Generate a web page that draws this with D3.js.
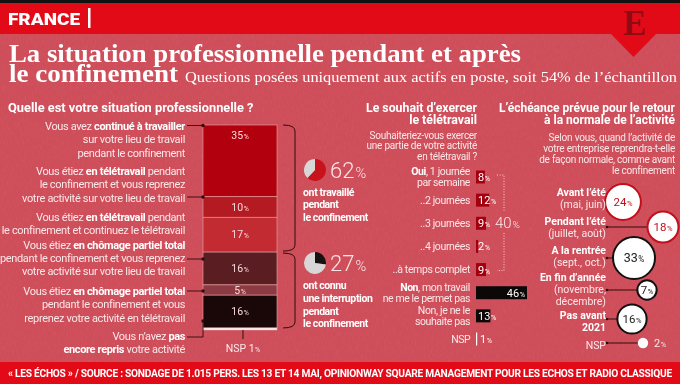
<!DOCTYPE html>
<html><head><meta charset="utf-8">
<script src="https://cdn.jsdelivr.net/npm/d3@7"></script>
<style>body{margin:0;background:#cc4b56}svg{display:block}text{font-family:Roboto,'Liberation Sans',sans-serif}</style>
</head><body><svg id="c" width="680" height="384"></svg>
<script>
// ---------- DATA ----------
const situationLabels = [
  ["Vous avez **continué à travailler**", "sur votre lieu de travail", "pendant le confinement"],
  ["Vous étiez **en télétravail** pendant", "le confinement et vous reprenez", "votre activité sur votre lieu de travail"],
  ["Vous étiez **en télétravail** pendant", "le confinement et continuez le télétravail"],
  ["Vous étiez **en chômage partiel total**", "pendant le confinement et vous reprenez", "votre activité sur votre lieu de travail"],
  ["Vous étiez **en chômage partiel total**", "pendant le confinement et vous", "reprenez votre activité en télétravail"],
  ["Vous n’avez **pas**", "**encore repris** votre activité"],
  ["NSP"]
];
const situationValues = [35, 10, 17, 16, 5, 16, 1];
const summaryValues = [62, 27];
const summaryLabels = [["ont travaillé", "pendant", "le confinement"], ["ont connu", "une interruption", "pendant", "le confinement"]];
const teleCategories = ["Oui1", "Oui2", "Oui3", "Oui4", "Oui5", "Non1", "Non2", "NSP"];
const teleLabels = [["**Oui**, 1 journée", "par semaine"], ["..2 journées"], ["..3 journées"], ["..4 journées"], ["..à temps complet"], ["**Non**, mon travail", "ne me le permet pas"], ["Non, je ne le", "souhaite pas"], ["NSP"]];
const teleValues = [8, 12, 9, 2, 9, 46, 13, 1];
const teleOuiTotal = 40;
const retourLabels = [["**Avant l’été**", "(mai, juin)"], ["**Pendant l’été**", "(juillet, août)"], ["**A la rentrée**", "(sept., oct.)"], ["**En fin d’année**", "(novembre,", "décembre)"], ["**Pas avant**", "**2021**"], ["NSP"]];
const retourValues = [24, 18, 33, 7, 16, 2];

// ---------- STYLE / LAYOUT ----------
const RED = "#e30a17", BG = "#cc4b56", TXT = "#fbe6e8", W = "#ffffff", DARK = "#2e0c0e";
const segColors = ["#b3000e", "#b31a21", "#c22b31", "#5a1d22", "#8d3b43", "#1a0708", "#ffffff"];
const svg = d3.select("#c");

// mixed-weight line, tightened by factor f (via letter-spacing)
function rich(sel, x, y, str, o) {
  const f = o.f || 1;
  const parts = str.split("**").map((s, i) => ({ s, b: i % 2 === 1 })).filter(p => p.s);
  const g = sel.append("g");
  const els = parts.map(p => {
    const t = g.append("text").attr("y", y).attr("font-size", o.size)
      .attr("font-weight", p.b ? 700 : (o.weight || 400))
      .attr("fill", p.b ? (o.boldFill || W) : o.fill).style("white-space", "pre").text(p.s);
    if (f !== 1) {
      const w0 = t.node().getComputedTextLength();
      t.attr("letter-spacing", (w0 * (f - 1) / p.s.length).toFixed(3));
    }
    const w = t.node().getComputedTextLength();
    return { t, w };
  });
  const total = d3.sum(els, e => e.w);
  let cx = o.anchor === "end" ? x - total : o.anchor === "middle" ? x - total / 2 : x;
  els.forEach(e => { e.t.attr("x", cx); cx += e.w; });
  return g;
}
function fitWidth(t, target) {
  const w0 = t.node().getComputedTextLength();
  const n = t.text().length;
  t.attr("letter-spacing", ((target - w0) / n).toFixed(3));
}
function pct(sel, x, y, v, size, o) {
  const t = sel.append("text").attr("x", x).attr("y", y).attr("font-size", size)
    .attr("text-anchor", o.anchor || "start").attr("fill", o.fill).attr("font-weight", o.weight || 400);
  t.append("tspan").text(v);
  t.append("tspan").attr("font-size", size * 0.66).attr("dx", size * 0.05).text("%");
  return t;
}

// background + subtle paper texture
const defs = svg.append("defs");
const flt = defs.append("filter").attr("id", "tex").attr("x", 0).attr("y", 0).attr("width", 1).attr("height", 1);
flt.append("feTurbulence").attr("type", "fractalNoise").attr("baseFrequency", "0.9 0.22").attr("numOctaves", 2).attr("seed", 4);
flt.append("feColorMatrix").attr("type", "saturate").attr("values", 0);
svg.append("rect").attr("width", 680).attr("height", 384).attr("fill", BG);
svg.append("rect").attr("y", 34).attr("width", 680).attr("height", 328).attr("filter", "url(#tex)")
  .attr("opacity", 0.22).style("mix-blend-mode", "overlay");
// header
svg.append("rect").attr("width", 680).attr("height", 34).attr("fill", RED);
svg.append("rect").attr("width", 680).attr("height", 3).attr("fill", "#111");
svg.append("text").attr("x", 8).attr("y", 24.5).attr("font-size", 17).attr("font-weight", 900)
  .attr("fill", W).attr("textLength", 72).attr("lengthAdjust", "spacingAndGlyphs").text("FRANCE");
svg.append("rect").attr("x", 88).attr("y", 8).attr("width", 2.5).attr("height", 20).attr("fill", W);
svg.append("path").attr("d", "M610,33L657,33L633.5,57Z").attr("fill", RED);
svg.append("text").attr("x", 635).attr("y", 35).attr("text-anchor", "middle")
  .attr("font-weight", 700).attr("font-size", 35)
  .attr("fill", "#8e0a14").style("font-family", "'Liberation Serif',serif").text("E");

// title
const serif = "'Liberation Serif','DejaVu Serif',serif";
svg.append("text").attr("x", 9).attr("y", 62).attr("font-size", 25.5).attr("font-weight", 700)
  .style("font-family", serif).attr("fill", W).attr("textLength", 512).attr("lengthAdjust", "spacingAndGlyphs")
  .text("La situation professionnelle pendant et après");
svg.append("text").attr("x", 9).attr("y", 82).attr("font-size", 25.5).attr("font-weight", 700)
  .style("font-family", serif).attr("fill", W).attr("textLength", 169).attr("lengthAdjust", "spacingAndGlyphs")
  .text("le confinement");
svg.append("text").attr("x", 185).attr("y", 81.5).attr("font-size", 15.5)
  .style("font-family", serif).attr("fill", W).attr("textLength", 492).attr("lengthAdjust", "spacingAndGlyphs")
  .text("Questions posées uniquement aux actifs en poste, soit 54% de l’échantillon");

// ---------- LEFT: stacked bar ----------
const left = svg.append("g");
left.append("text").attr("x", 8).attr("y", 112).attr("font-size", 12.8).attr("font-weight", 700)
  .attr("fill", W).text("Quelle est votre situation professionnelle ?");

const yS = d3.scaleLinear().domain([0, d3.sum(situationValues)]).range([125, 330]);
const cum = [0, ...d3.cumsum(situationValues)];
const barX = 203, barW = 74;
situationValues.forEach((v, i) => {
  left.append("rect").attr("x", barX).attr("y", yS(cum[i])).attr("width", barW)
    .attr("height", yS(cum[i + 1]) - yS(cum[i])).attr("fill", segColors[i])
    .attr("stroke", "#e9a3a8").attr("stroke-width", 0.6);
  if (i < situationValues.length - 1) {
    const yy = i === 0 ? yS(cum[i]) + 13.5 : (yS(cum[i]) + yS(cum[i + 1])) / 2 + 3.6;
    pct(left, barX + barW / 2, yy, v, 10.5, { anchor: "middle", fill: "#f7dadc" });
  }
});
// NSP
const nspX = barX + barW / 2 + 3;
left.append("line").attr("x1", nspX).attr("x2", nspX).attr("y1", yS(100)).attr("y2", yS(100) + 9)
  .attr("stroke", DARK).attr("stroke-width", 1);
const nt = left.append("text").attr("x", nspX).attr("y", 352).attr("text-anchor", "middle")
  .attr("font-size", 10.5).attr("fill", TXT);
nt.append("tspan").text("NSP " + situationValues[6]);
nt.append("tspan").attr("font-size", 7).attr("dx", 0.5).text("%");

const leftLabelY = [130, 175, 221, 248.5, 295, 340];
const LH = 13.3;
leftLabelY.forEach((y0, i) => {
  situationLabels[i].forEach((ln, j) => rich(left, 185, y0 + j * LH, ln, { anchor: "end", size: 11, fill: TXT, f: 0.93 }));
});
// pointers
const pointers = [{ y: 125.5 }, { y: 197 }, { y: 259 }, { y: 291 }, { y: 337, dot: 321 }];
pointers.forEach(p => {
  const d = p.dot ? `M187,${p.y}H${barX}V${p.dot}` : `M187,${p.y}H${barX}`;
  left.append("path").attr("d", d).attr("fill", "none").attr("stroke", DARK).attr("stroke-width", 0.9);
  left.append("circle").attr("cx", barX).attr("cy", p.dot || p.y).attr("r", 1.7).attr("fill", DARK);
});
// brackets
function bracket(t, b) {
  return `M283,${t}Q295,${t} 295,${t + 6}V${b - 6}Q295,${b} 283,${b}`;
}
const midB = yS(cum[3]);
left.append("path").attr("d", bracket(yS(0), midB - 1)).attr("fill", "none").attr("stroke", DARK).attr("stroke-width", 1);
left.append("path").attr("d", bracket(midB + 1, yS(cum[6]))).attr("fill", "none").attr("stroke", DARK).attr("stroke-width", 1);

// pies
const pie = d3.pie().sort(null);
const arc = d3.arc().innerRadius(0).outerRadius(11);
const pieY = [170, 263], pieCol = ["#c8131c", "#161212"];
summaryValues.forEach((v, i) => {
  const g = left.append("g").attr("transform", `translate(315,${pieY[i]})`);
  g.selectAll("path").data(pie([v, 100 - v])).join("path").attr("d", arc)
    .attr("fill", (d, k) => k === 0 ? pieCol[i] : "#d8d6d6");
  pct(left, 330, pieY[i] + 8, v, 22, { fill: TXT, weight: 300 });
  const base = i === 0 ? 195.5 : 289;
  summaryLabels[i].forEach((ln, j) => rich(left, 303, base + j * 12.8, "**" + ln + "**",
    { size: 10.5, fill: W, f: 0.92 }));
});

// ---------- MIDDLE: télétravail ----------
const mid = svg.append("g");
["Le souhait d’exercer", "le télétravail"].forEach((t, j) => mid.append("text").attr("x", 477).attr("y", 112 + j * 12)
  .attr("text-anchor", "end").attr("font-size", 12.3).attr("font-weight", 700).attr("fill", W).text(t));
["Souhaiteriez-vous exercer", "une partie de votre activité", "en télétravail ?"].forEach((t, j) =>
  rich(mid, 477, 138.5 + j * 10.8, t, { anchor: "end", size: 10, fill: TXT, f: 0.94 }));
const tx0 = 476;
const xT = d3.scaleLinear().domain([0, d3.max(teleValues)]).range([0, 51]);
const rowY = d3.scalePoint().domain(teleCategories).range([177, 339]);
teleCategories.forEach((c, i) => {
  const cy = rowY(c), v = teleValues[i];
  const col = i < 5 ? "#a3000f" : (i < 7 ? "#0c0808" : "#ffffff");
  mid.append("rect").attr("x", tx0).attr("y", cy - 6.5).attr("width", Math.max(xT(v), 1.2)).attr("height", 13).attr("fill", col);
  if (v === d3.max(teleValues)) pct(mid, tx0 + xT(v) - 2, cy + 4, v, 11, { anchor: "end", fill: W });
  else pct(mid, tx0 + (i === 7 ? 4 : 2), cy + 4, v, 11, { fill: W });
  const lines = teleLabels[i];
  const ys = lines.length === 2 ? [cy - 2, cy + 8.9] : [cy + 3.7];
  lines.forEach((ln, j) => rich(mid, 470, ys[j], ln, { anchor: "end", size: 10.5, fill: TXT, f: 0.92 }));
});
// 40% dotted bracket
const yTop = rowY(teleCategories[0]) - 2, yBot = rowY(teleCategories[4]) + 1;
mid.append("path").attr("d", `M497,${yTop}H504V212M504,233V${yBot}H497`)
  .attr("stroke", "#f6d2d5").attr("stroke-width", 1).attr("stroke-dasharray", "1,1.6").attr("fill", "none");
pct(mid, 495, 228, teleOuiTotal, 15, { fill: TXT, weight: 300 });

// ---------- RIGHT: retour ----------
const right = svg.append("g");
["L’échéance prévue pour le retour", "à la normale de l’activité"].forEach((t, j) => right.append("text").attr("x", 675)
  .attr("y", 112 + j * 12).attr("text-anchor", "end").attr("font-size", 12).attr("font-weight", 700).attr("fill", W).text(t));
["Selon vous, quand l’activité de", "votre entreprise reprendra-t-elle", "de façon normale, comme avant", "le confinement"]
  .forEach((t, j) => rich(right, 675, 141.2 + j * 10.8, t, { anchor: "end", size: 10, fill: TXT, f: 0.95 }));
const rS = d3.scaleSqrt().domain([0, d3.max(retourValues)]).range([0, 21]);
const bubX = [623, 663, 634, 647, 632, 643];
const bubY = [202, 227, 258, 290, 319, 343];
const labY = [195.5, 224.7, 253.7, 281, 318.7, 348.5];
retourValues.forEach((v, i) => {
  const r = rS(v), cx = bubX[i], cy = bubY[i];
  right.append("line").attr("x1", 607).attr("x2", cx - r).attr("y1", cy).attr("y2", cy)
    .attr("stroke", DARK).attr("stroke-width", 1);
  right.append("circle").attr("cx", 607).attr("cy", cy).attr("r", 1.3).attr("fill", DARK);
  const strokeC = i < 2 ? "#c20f1c" : "#111";
  right.append("circle").attr("cx", cx).attr("cy", cy).attr("r", r).attr("fill", W)
    .attr("stroke", strokeC).attr("stroke-width", i === 5 ? 0 : 2);
  if (i < 5) pct(right, cx, cy + 4, v, v > 30 ? 12.5 : 11.5, { anchor: "middle", fill: i < 2 ? "#c20f1c" : "#222" });
  else pct(right, cx + 11, cy + 4, v, 11, { fill: TXT });
  retourLabels[i].forEach((ln, j) => rich(right, 606, labY[i] + j * 12, ln, { anchor: "end", size: 10.5, fill: TXT }));
});

// ---------- FOOTER ----------
svg.append("rect").attr("y", 362).attr("width", 680).attr("height", 22).attr("fill", RED);
const foot = svg.append("text").attr("x", 8).attr("y", 376.5).attr("font-size", 10.2).attr("font-weight", 700).attr("fill", W)
  .style("white-space", "pre")
  .text("« LES ÉCHOS » / SOURCE : SONDAGE DE 1.015 PERS. LES 13 ET 14 MAI, OPINIONWAY SQUARE MANAGEMENT POUR LES ECHOS ET RADIO CLASSIQUE");
fitWidth(foot, 664);
</script></body></html>
